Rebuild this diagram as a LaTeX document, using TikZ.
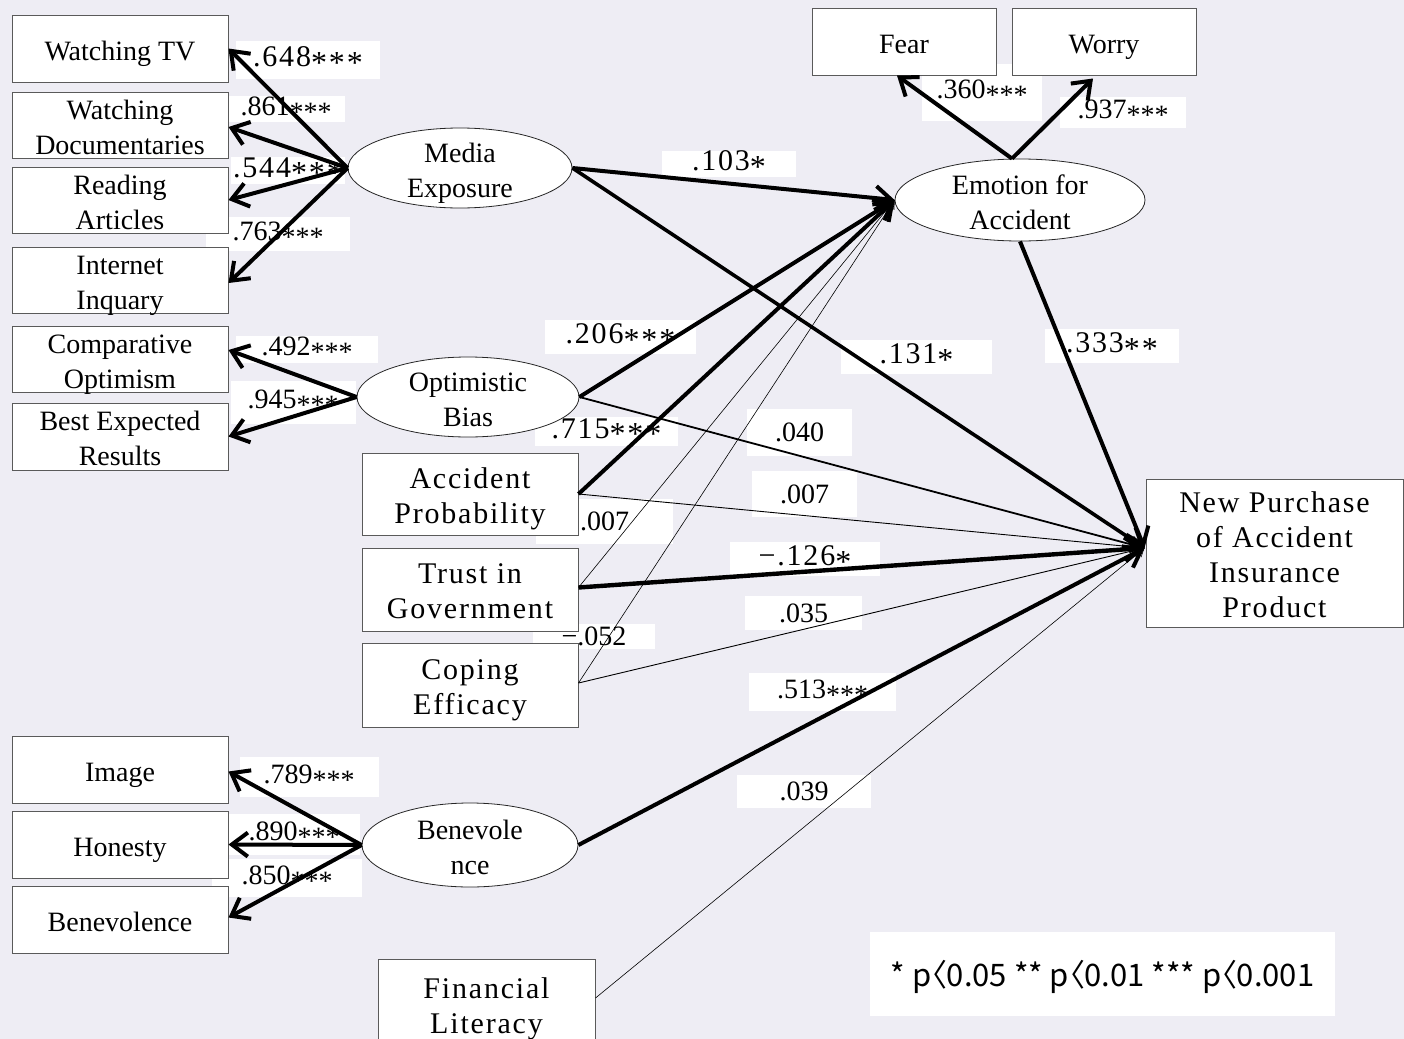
\documentclass[tikz,border=0pt]{standalone}
\usepackage{fontspec}
\setmainfont{Liberation Serif}
\newfontfamily\widefont[LetterSpace=6]{Liberation Serif}
\newfontfamily\legfont[RawFeature=+palt]{Noto Sans CJK KR}
\usetikzlibrary{arrows.meta,calc,shapes.geometric}
\definecolor{bgc}{HTML}{EEEDF4}
\definecolor{bdr}{HTML}{5A5A5A}
\newcommand{\sthree}{\raisebox{-0.45ex}{***}}
\newcommand{\wstars}[1]{\raisebox{-0.45ex}{\fontsize{16}{16}\selectfont #1}}
\newcommand{\tx}[1]{\raisebox{-6pt}[0pt][0pt]{\begin{tabular}{@{}c@{}}#1\end{tabular}}}
\begin{document}
\begin{tikzpicture}[x=0.5pt,y=-0.5pt,
  cbox/.style={draw=bdr, line width=0.5pt, fill=white, inner sep=0pt, font=\fontsize{14}{17.5}\selectfont},
  wbox/.style={cbox, font=\widefont\fontsize{15}{17.5}\selectfont},
  oval/.style={ellipse, draw=black!85, line width=0.4pt, fill=white, inner sep=0pt, font=\fontsize{14}{17.5}\selectfont},
  labw/.style={fill=white, inner sep=0pt, yshift=-2pt, font=\widefont\fontsize{15}{17}\selectfont},
  labc/.style={fill=white, inner sep=0pt, yshift=-2pt, font=\fontsize{14}{17}\selectfont},
  ld/.style={line width=2pt, -{Straight Barb[length=8pt,width=12pt]}},
  lmid/.style={line width=0.9pt, -{Straight Barb[length=6pt,width=8pt]}},
  lthin/.style={line width=0.45pt, -{Straight Barb[length=5pt,width=6pt]}},
  lhair/.style={line width=0.3pt, -{Straight Barb[length=4pt,width=5pt]}}
]
% background
\fill[bgc] (0,0) rectangle (1404,1039);
\useasboundingbox (0,0) rectangle (1404,1039);

% ---- coefficient labels (white boxes) ----
\node[labw, minimum width=72pt, minimum height=19pt] (l648) at (308,56) {.648\wstars{***}};
\node[labc, minimum width=58.5pt, minimum height=13pt] (l861) at (286,105) {.861\sthree};
\node[labw, minimum width=57pt, minimum height=13.5pt] (l544) at (288,166.5) {.544\wstars{***}};
\node[labc, minimum width=72pt, minimum height=17pt] (l763) at (278,230) {.763\sthree};
\node[labc, minimum width=71pt, minimum height=13.5pt] (l492) at (307,345.5) {.492\sthree};
\node[labc, minimum width=62.5pt, minimum height=21.5pt] (l945) at (293,398.5) {.945\sthree};
\node[labc, minimum width=69.5pt, minimum height=20pt] (l789) at (309,773) {.789\sthree};
\node[labc, minimum width=66pt, minimum height=20.5pt] (l890) at (294,830) {.890\sthree};
\node[labc, minimum width=75pt, minimum height=19pt] (l850) at (287,874) {.850\sthree};
\node[labc, minimum width=60pt, minimum height=28.5pt] (l360) at (982,88.5) {.360\sthree};
\node[labc, minimum width=63pt, minimum height=15.5pt] (l937) at (1123,108.5) {.937\sthree};
\node[labw, minimum width=67pt, minimum height=11pt] (l103) at (729,160) {.103\wstars{*}};
\node[labw, minimum width=75.5pt, minimum height=17pt] (l206) at (620.5,333) {.206\wstars{***}};
\node[labw, minimum width=71.5pt, minimum height=14.5pt] (l715) at (606.5,427.5) {.715\wstars{***}};
\node[labw, minimum width=75.5pt, minimum height=17pt] (l131) at (916.5,353) {.131\wstars{*}};
\node[labw, minimum width=67pt, minimum height=17pt] (l333) at (1112,342) {.333\wstars{**}};
\node[labc, minimum width=52.5pt, minimum height=23.5pt] (l040) at (799.5,428.5) {.040};
\node[labc, minimum width=52.5pt, minimum height=23pt] (l007a) at (804.5,490) {.007};
\node[labc, minimum width=68.5pt, minimum height=22.5pt] (l007b) at (604.5,517.5) {.007};
\node[labw, minimum width=75pt, minimum height=17pt] (l126) at (805,555) {−.126\wstars{*}};
\node[labc, minimum width=58.5pt, minimum height=17pt] (l035) at (803.5,609) {.035};
\node[labc, minimum width=61pt, minimum height=12.5pt] (l052) at (594,632) {−.052};
\node[labc, minimum width=73.5pt, minimum height=19pt] (l513) at (822.5,688) {.513\sthree};
\node[labc, minimum width=67pt, minimum height=16.5pt] (l039) at (804,787.5) {.039};

% ---- observed variables (left) ----
\node[cbox, minimum width=108pt, minimum height=33.5pt] (wtv) at (120,48.5) {\tx{Watching TV}};
\node[cbox, minimum width=108pt, minimum height=33pt] (wdoc) at (120,125) {\tx{Watching\\Documentaries}};
\node[cbox, minimum width=108pt, minimum height=33pt] (read) at (120,200) {\tx{Reading\\Articles}};
\node[cbox, minimum width=108pt, minimum height=33pt] (inet) at (120,280) {\tx{Internet\\Inquary}};
\node[cbox, minimum width=108pt, minimum height=33pt] (comp) at (120,359) {\tx{Comparative\\Optimism}};
\node[cbox, minimum width=108pt, minimum height=33.5pt] (best) at (120,436.5) {\tx{Best Expected\\Results}};
\node[cbox, minimum width=108pt, minimum height=33.5pt] (img) at (120,769.5) {\tx{Image}};
\node[cbox, minimum width=108pt, minimum height=33.5pt] (hon) at (120,844.5) {\tx{Honesty}};
\node[cbox, minimum width=108pt, minimum height=33.5pt] (benb) at (120,919.5) {\tx{Benevolence}};

% ---- latent variables ----
\node[oval, minimum width=112pt, minimum height=40pt] (media) at (460,168) {\tx{Media\\Exposure}};
\node[oval, minimum width=111pt, minimum height=40pt] (optb) at (468,397) {\tx{Optimistic\\Bias}};
\node[oval, minimum width=125pt, minimum height=41pt] (emo) at (1020,200) {\tx{Emotion for\\Accident}};
\node[oval, minimum width=108pt, minimum height=42pt] (benev) at (470,845) {\tx{Benevole\\nce}};

% ---- other observed ----
\node[wbox, minimum width=108pt, minimum height=41pt] (accp) at (470,494) {\tx{Accident\\Probability}};
\node[wbox, minimum width=108pt, minimum height=41.5pt] (trust) at (470,589.5) {\tx{Trust in\\Government}};
\node[wbox, minimum width=108pt, minimum height=42pt] (coping) at (470,685) {\tx{Coping\\Efficacy}};
\node[wbox, minimum width=108.5pt, minimum height=45pt] (finl) at (486.5,1004) {\tx{Financial\\Literacy}};
\node[cbox, minimum width=92pt, minimum height=33.5pt] (fear) at (904,41.5) {\tx{Fear}};
\node[cbox, minimum width=92pt, minimum height=33.5pt] (worry) at (1104,41.5) {\tx{Worry}};
\node[wbox, minimum width=128.5pt, minimum height=74pt] (newp) at (1274.5,553) {\tx{New Purchase\\of Accident\\Insurance\\Product}};

% legend
\node[fill=white, inner sep=0pt, minimum width=232.5pt, minimum height=42pt, font=\legfont\fontsize{15.5}{18}\selectfont] (legend) at (1102.5,974) {\raisebox{-1.5pt}[\height][\depth]{* p〈0.05 ** p〈0.01 *** p〈0.001}};

% ---- connectors ----
\coordinate (npin) at ($(newp.west)+(-1,-5)$);
\coordinate (emotop) at ($(emo.north)+(-8,0)$);

% measurement loadings
\draw[ld] (media.west) -- (wtv.east);
\draw[ld] (media.west) -- ($(wdoc.east)+(0,2)$);
\draw[ld] (media.west) -- (read.east);
\draw[ld] (media.west) -- ($(inet.east)+(0,3)$);
\draw[ld] (optb.west) -- ($(comp.east)+(0,-9)$);
\draw[ld] (optb.west) -- (best.east);
\draw[ld] (benev.west) -- ($(img.east)+(0,2)$);
\draw[ld] (benev.west) -- (hon.east);
\draw[ld] (benev.west) -- ($(benb.east)+(0,-2)$);
\draw[ld] (emotop) -- ($(fear.south)+(-7,0)$);
\draw[ld] (emotop) -- ($(worry.south)+(-11,3)$);

% paths to Emotion for Accident
\draw[ld] (media.east) -- (emo.west);
\draw[ld] (optb.east) -- (emo.west);
\draw[ld] (accp.east) -- (emo.west);
\draw[lhair] ($(trust.east)+(0,-2)$) -- (emo.west);
\draw[lhair] ($(coping.east)+(0,-2)$) -- (emo.west);

% paths to New Purchase
\draw[line width=1.8pt, -{Straight Barb[length=8pt,width=12pt]}] (media.east) -- (npin);
\draw[ld] (emo.south) -- (npin);
\draw[lmid] (optb.east) -- (npin);
\draw[lthin] (accp.east) -- (npin);
\draw[line width=2.2pt, -{Straight Barb[length=8pt,width=12pt]}] ($(trust.east)+(0,-2)$) -- (npin);
\draw[lthin] ($(coping.east)+(0,-2)$) -- (npin);
\draw[ld] (benev.east) -- (npin);
\draw[lhair] ($(finl.east)+(0,-6)$) -- (npin);
\end{tikzpicture}
\end{document}
